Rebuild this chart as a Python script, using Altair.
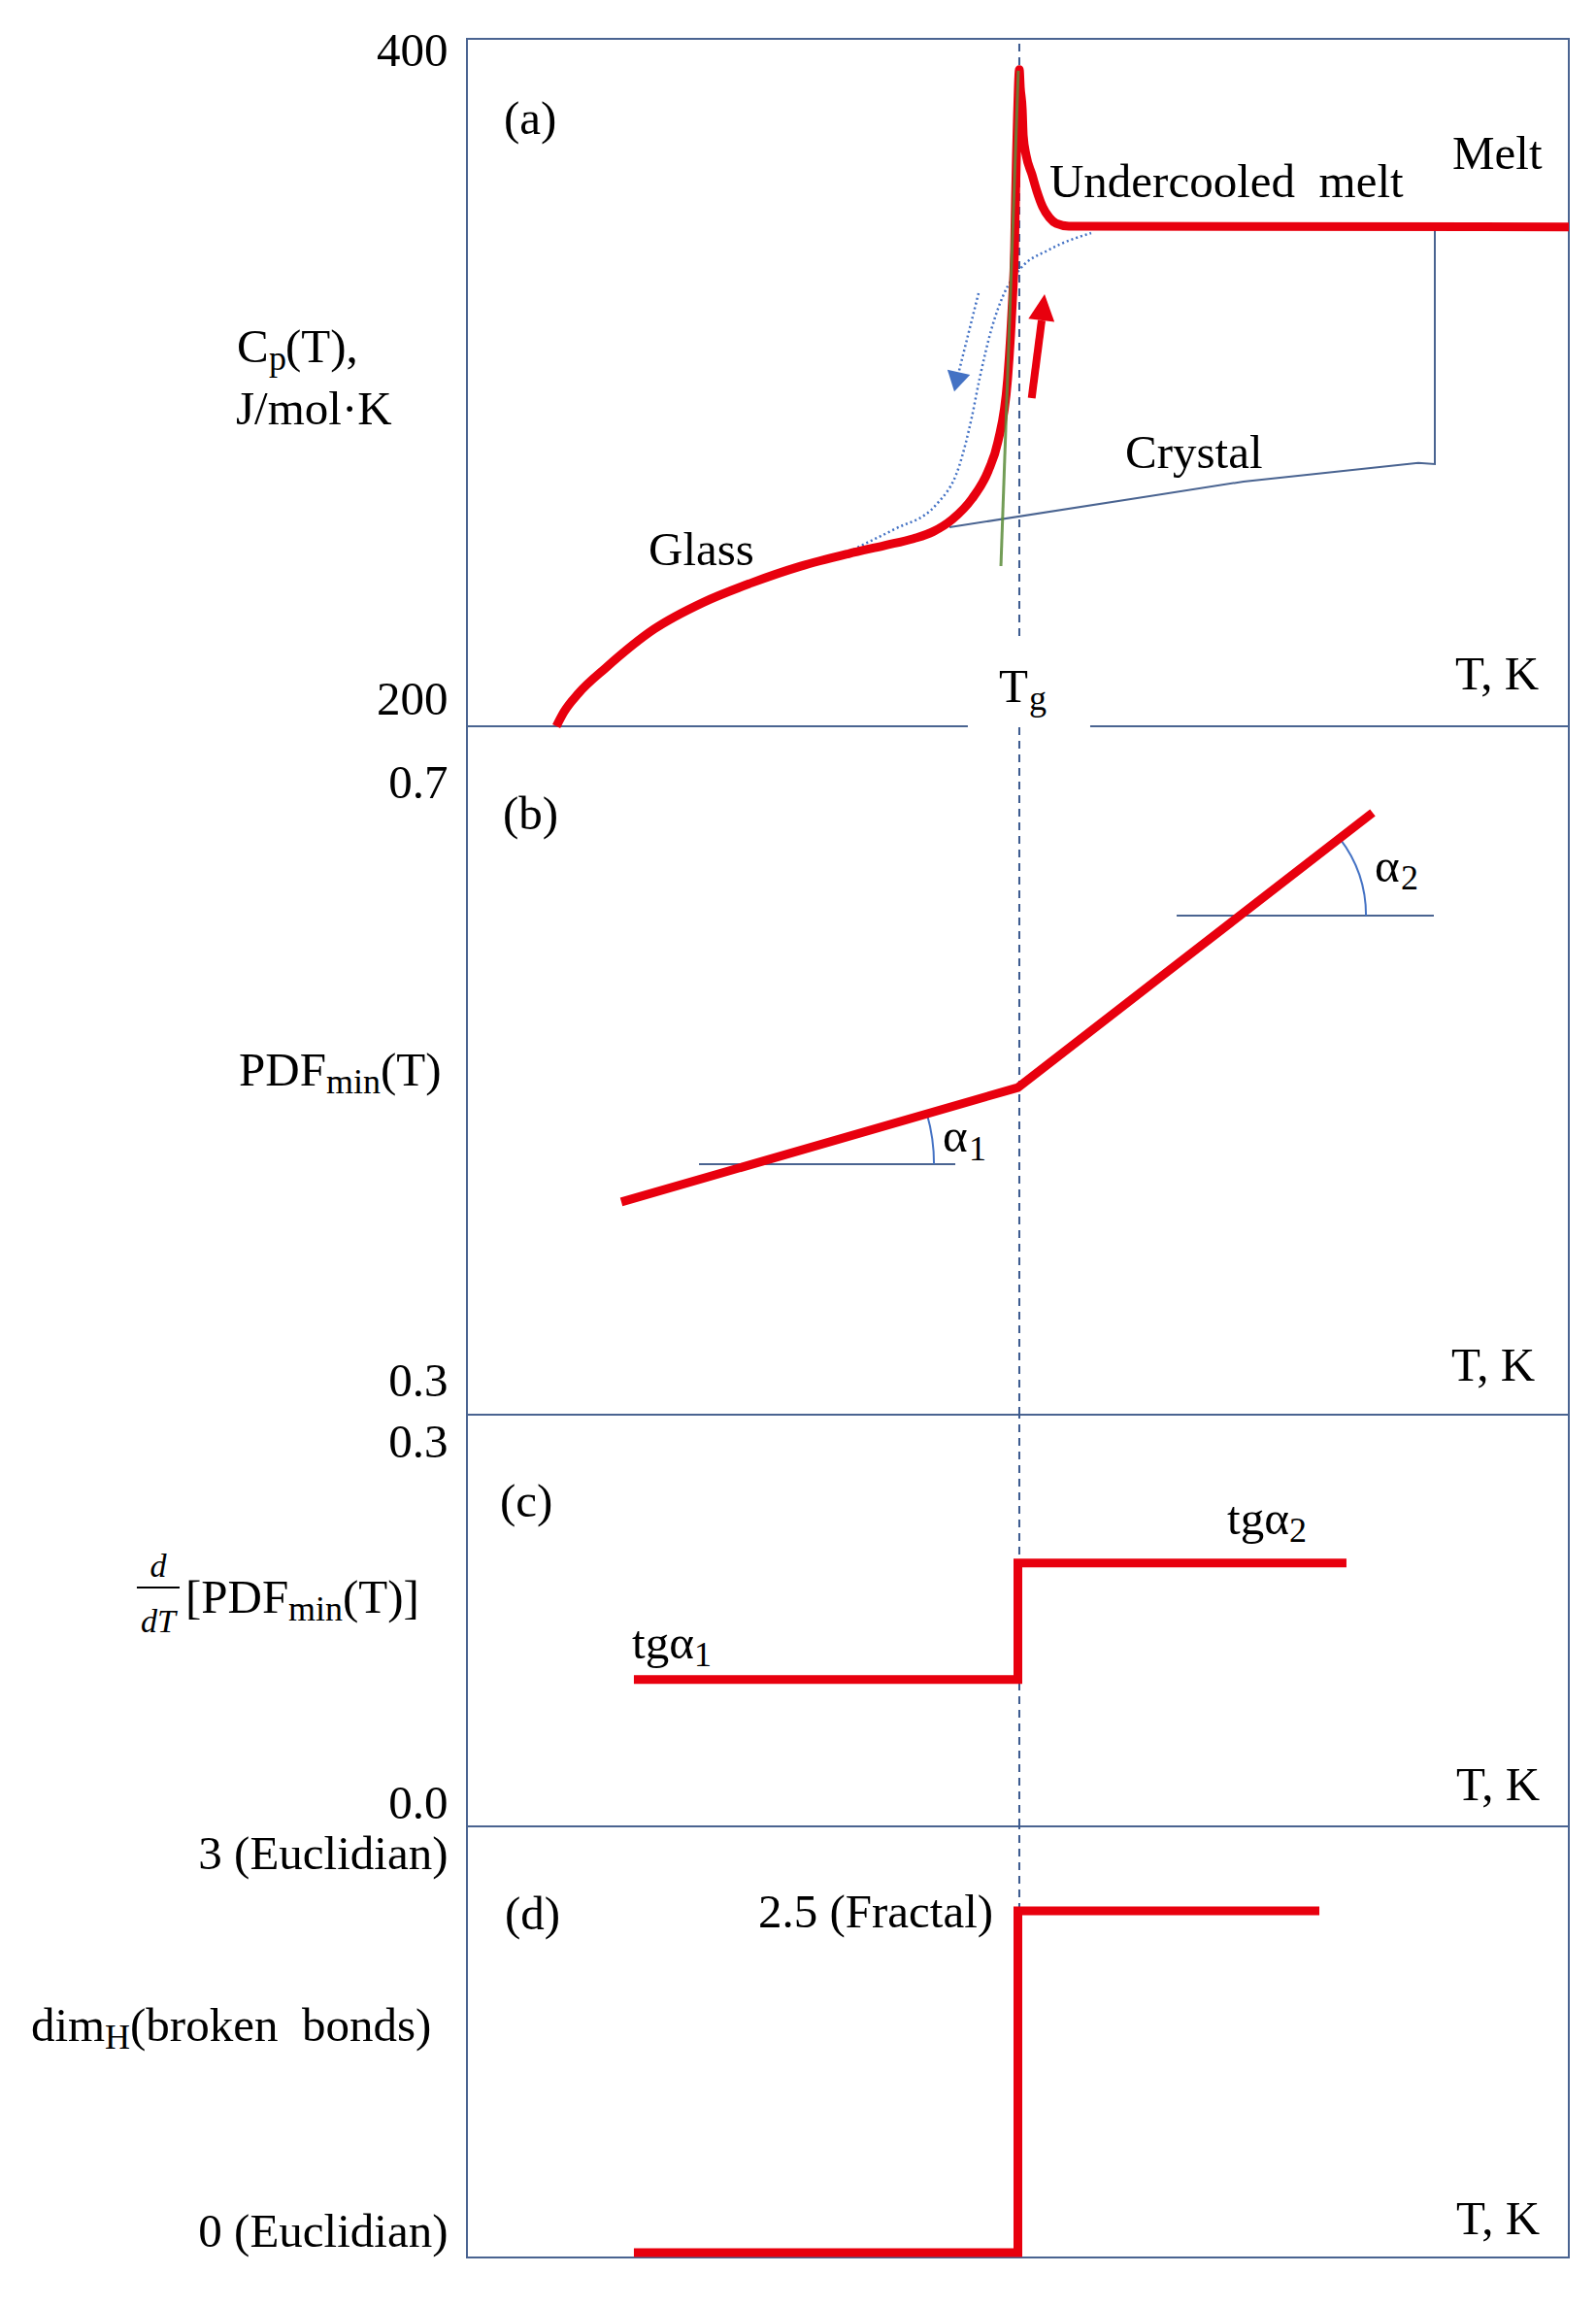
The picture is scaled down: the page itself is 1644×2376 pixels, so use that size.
import altair as alt
import pandas as pd

FONT = "Liberation Serif"
FS = 49
SUB = 36
FRAC = 34
RED = "#e8000e"
FRAME = "#4a6491"
BLUE = "#4472c4"
DASH = "#3b5a8f"
GREEN = "#5b8c3a"

PLOT_W = 1135
T_DOMAIN = [0, 100]
TG_LINE = 50.13

# ---------------- panel (a): heat capacity ----------------
A_DOMAIN = [200, 400]
A_TICKS = [200, 400]
A_OFF = [12, -28]
A_H = 708

cp_t = [8.11, 8.81, 10.13, 12.60, 17.00, 21.41, 25.81, 30.22, 34.63, 37.89,
        40.53, 42.29, 44.05, 45.81, 47.31, 48.19, 49.07, 49.34, 49.52, 49.69,
        49.78, 49.87, 49.96, 50.04, 50.13, 50.22, 50.40, 50.49, 50.75, 51.28,
        51.72, 52.25, 52.86, 53.48, 54.63, 100.0]
cp_v = [200.0, 204.2, 209.6, 217.0, 228.3, 236.0, 241.7, 246.5, 250.2, 252.6,
        254.6, 256.6, 260.2, 266.1, 274.3, 282.8, 301.1, 313.8, 324.6, 337.9,
        352.8, 366.1, 377.4, 385.9, 391.0, 385.9, 379.4, 371.8, 366.1, 360.5,
        355.7, 351.1, 348.0, 346.3, 345.5, 345.3]

cool_t = [33.48, 36.12, 38.77, 42.56, 44.67, 45.81, 46.52, 47.58, 48.72, 50.22, 52.86, 56.65]
cool_v = [248.9, 253.1, 257.3, 264.4, 275.7, 289.8, 301.1, 315.3, 325.7, 333.1, 338.7, 343.5]

crys_t = [43.79, 70.48, 86.34, 87.84, 87.84]
crys_v = [257.9, 271.2, 276.6, 276.3, 345.2]

green_t = [48.46, 50.04]
green_v = [246.6, 390.7]

blue_arrow_t = [46.43, 44.63]
blue_arrow_v = [326.0, 303.0]
blue_head = (44.43, 300.2, 193)

red_arrow_t = [51.25, 52.16]
red_arrow_v = [295.5, 318.1]
red_head = (52.28, 321.9, 7)

a_frame = dict(t1=[0, 100, 0, 0, 56.65], v1=[200, 200, 400, 200, 200],
               t2=[0, 100, 100, 45.37, 100], v2=[400, 400, 400, 200, 200])
a_dash = dict(t1=[TG_LINE], v1=[226.3], t2=[TG_LINE], v2=[400])

a_txt_t = [3.35, 16.48, 52.86, 89.43, 59.74, 48.28, 51.01, 89.69, -20.88, -17.97, -16.48, -20.97]
a_txt_v = [372.3, 246.9, 354.0, 362.1, 275.1, 207.1, 204.8, 210.7, 305.9, 303.7, 305.9, 287.9]
a_txt_s = ["(a)", "Glass", "Undercooled\u00a0\u00a0melt", "Melt", "Crystal", "T", "g", "T, K",
           "C", "p", "(T),", "J/mol\u00b7K"]
a_txt_f = [FS, FS, FS, FS, FS, FS, SUB, FS, FS, SUB, FS, FS]

# ---------------- panel (b): PDF_min ----------------
B_DOMAIN = [0.3, 0.7]
B_TICKS = [0.3, 0.7]
B_OFF = [58, -35]
B_H = 709

pdf_t = [14.01, 50.0, 82.20]
pdf_v = [0.4236, 0.4901, 0.6498]

b_horiz = dict(t1=[21.06, 64.41], v1=[0.4456, 0.590], t2=[44.32, 87.75], v2=[0.4456, 0.590])
b_arcs = [(25.91, 0.4456, 187, 1.2898, 1.5708), (70.14, 0.590, 130, 0.9118, 1.5708)]
b_frame = dict(t1=[0, 100, 0], v1=[0.3, 0.3, 0.3], t2=[0, 100, 100], v2=[0.7, 0.7, 0.3])
b_dash = dict(t1=[TG_LINE], v1=[0.3], t2=[TG_LINE], v2=[0.7])

b_txt_t = [3.26, 43.17, 45.55, 82.38, 84.76, 89.34, -20.70, -12.78, -7.84]
b_txt_v = [0.6402, 0.4529, 0.4478, 0.6097, 0.6052, 0.3197, 0.4913, 0.4867, 0.4913]
b_txt_s = ["(b)", "\u03b1", "1", "\u03b1", "2", "T, K", "PDF", "min", "(T)"]
b_txt_f = [FS, FS, SUB, FS, SUB, FS, FS, SUB, FS]

# ---------------- panel (c): derivative ----------------
C_DOMAIN = [0.0, 0.3]
C_TICKS = [0.0, 0.3]
C_OFF = [28, -24]
C_H = 424

der_t = [15.15, 50.0, 50.0, 79.82]
der_v = [0.107, 0.107, 0.192, 0.192]

c_frame = dict(t1=[0, 100, 0], v1=[0.0, 0.0, 0.0], t2=[0, 100, 100], v2=[0.3, 0.3, 0.0])
c_dash = dict(t1=[TG_LINE], v1=[0.0], t2=[TG_LINE], v2=[0.3])
c_bar = dict(t1=[-29.96], v1=[0.1741], t2=[-26.08], v2=[0.1741])

c_txt_t = [3.00, 14.98, 20.62, 68.99, 74.63, 89.78, -25.55, -16.21, -11.28]
c_txt_v = [0.2257, 0.1224, 0.1167, 0.2130, 0.2073, 0.0191, 0.1557, 0.1500, 0.1557]
c_txt_s = ["(c)", "tg\u03b1", "1", "tg\u03b1", "2", "T, K", "[PDF", "min", "(T)]"]
c_txt_f = [FS, FS, SUB, FS, SUB, FS, FS, SUB, FS]

c_frac_t = [-28.02, -28.02]
c_frac_v = [0.1818, 0.1415]
c_frac_s = ["d", "dT"]

# ---------------- panel (d): Hausdorff dimension ----------------
D_DOMAIN = [-0.0355, 3.118]
D_TICKS = [0, 3]
D_TICK_LABELS = ["0 (Euclidian)", "3 (Euclidian)"]
D_OFF = [12, -22]
D_H = 444

dim_t = [15.15, 50.0, 50.0, 77.36]
dim_v = [0.0, 0.0, 2.5, 2.5]

d_frame = dict(t1=[0, 100, 0], v1=[-0.0355, -0.0355, -0.0355], t2=[0, 100, 100], v2=[3.118, 3.118, -0.0355])
d_dash = dict(t1=[TG_LINE], v1=[2.5], t2=[TG_LINE], v2=[3.118])

d_txt_t = [3.44, 26.43, 89.78, -39.56, -32.86, -30.57]
d_txt_v = [2.365, 2.379, 0.135, 1.548, 1.491, 1.548]
d_txt_s = ["(d)", "2.5 (Fractal)", "T, K", "dim", "H", "(broken\u00a0\u00a0bonds)"]
d_txt_f = [FS, FS, FS, FS, SUB, FS]


# ---------------- helpers ----------------
def X():
    return alt.X("t:Q", scale=alt.Scale(domain=T_DOMAIN, nice=False, zero=False), axis=None)


def make_y(domain, ticks, offs, fmt=None, expr=None):
    mid = (ticks[0] + ticks[1]) / 2
    ax = dict(values=ticks, title=None, labelLimit=0,
              labelOffset={"condition": {"test": f"datum.value > {mid}", "value": offs[0]},
                           "value": offs[1]})
    if fmt:
        ax["format"] = fmt
    if expr:
        ax["labelExpr"] = expr
    return alt.Y("v:Q", scale=alt.Scale(domain=domain, nice=False, zero=False), axis=alt.Axis(**ax))


def line_layer(ts, vs, Y, **mark):
    df = pd.DataFrame({"t": ts, "v": vs, "i": list(range(len(ts)))})
    return alt.Chart(df).mark_line(**mark).encode(x=X(), y=Y, order="i:Q")


def rule_layer(spec, Y, **mark):
    df = pd.DataFrame(spec)
    df = df.rename(columns={"t1": "t", "v1": "v"})
    return alt.Chart(df).mark_rule(**mark).encode(x=X(), y=Y, x2="t2:Q", y2="v2:Q")


def text_layer(ts, vs, ss, fs, Y, **mark):
    df = pd.DataFrame({"t": ts, "v": vs, "s": ss, "fs": fs})
    base = dict(font=FONT, align="left", baseline="alphabetic", color="black")
    base.update(mark)
    return alt.Chart(df).mark_text(**base).encode(
        x=X(), y=Y, text="s:N", size=alt.Size("fs:Q", scale=None, legend=None))


def head_layer(head, Y, color, shape, size):
    df = pd.DataFrame({"t": [head[0]], "v": [head[1]]})
    return alt.Chart(df).mark_point(shape=shape, filled=True, opacity=1, size=size,
                                    angle=head[2], color=color, strokeWidth=0).encode(x=X(), y=Y)


def arc_layer(arc, Y):
    df = pd.DataFrame({"t": [arc[0]], "v": [arc[1]]})
    return alt.Chart(df).mark_arc(radius=arc[2] + 1, radius2=arc[2] - 1, theta=arc[3],
                                  theta2=arc[4], color=BLUE).encode(x=X(), y=Y)


# ---------------- panel (a) ----------------
YA = make_y(A_DOMAIN, A_TICKS, A_OFF, fmt="d")
pa = alt.layer(
    rule_layer(a_frame, YA, color=FRAME, strokeWidth=2, strokeCap="square"),
    rule_layer(a_dash, YA, color=DASH, strokeWidth=2, strokeDash=[8, 6]),
    line_layer(crys_t, crys_v, YA, color=FRAME, strokeWidth=2),
    line_layer(cool_t, cool_v, YA, color=BLUE, strokeWidth=2.5, strokeDash=[2, 3], interpolate="monotone"),
    line_layer(blue_arrow_t, blue_arrow_v, YA, color=BLUE, strokeWidth=2.5, strokeDash=[2, 3]),
    head_layer(blue_head, YA, BLUE, "M0,-0.85L1,0.85L-1,0.85Z", 576),
    line_layer(cp_t, cp_v, YA, color=RED, strokeWidth=9, interpolate="monotone",
               strokeCap="butt", strokeJoin="round"),
    line_layer(green_t, green_v, YA, color=GREEN, strokeWidth=3, opacity=0.85),
    line_layer(red_arrow_t, red_arrow_v, YA, color=RED, strokeWidth=8, strokeCap="butt"),
    head_layer(red_head, YA, RED, "M0,-1L1,1L-1,1Z", 729),
    text_layer(a_txt_t, a_txt_v, a_txt_s, a_txt_f, YA),
).properties(width=PLOT_W, height=A_H)

# ---------------- panel (b) ----------------
YB = make_y(B_DOMAIN, B_TICKS, B_OFF, fmt=".1f")
pb = alt.layer(
    rule_layer(b_frame, YB, color=FRAME, strokeWidth=2, strokeCap="square"),
    rule_layer(b_dash, YB, color=DASH, strokeWidth=2, strokeDash=[8, 6]),
    rule_layer(b_horiz, YB, color=FRAME, strokeWidth=2),
    arc_layer(b_arcs[0], YB),
    arc_layer(b_arcs[1], YB),
    line_layer(pdf_t, pdf_v, YB, color=RED, strokeWidth=9, strokeCap="butt", strokeJoin="miter"),
    text_layer(b_txt_t, b_txt_v, b_txt_s, b_txt_f, YB),
).properties(width=PLOT_W, height=B_H)

# ---------------- panel (c) ----------------
YC = make_y(C_DOMAIN, C_TICKS, C_OFF, fmt=".1f")
pc = alt.layer(
    rule_layer(c_frame, YC, color=FRAME, strokeWidth=2, strokeCap="square"),
    rule_layer(c_dash, YC, color=DASH, strokeWidth=2, strokeDash=[8, 6]),
    line_layer(der_t, der_v, YC, color=RED, strokeWidth=9, strokeCap="butt", strokeJoin="miter"),
    rule_layer(c_bar, YC, color="black", strokeWidth=2),
    text_layer(c_txt_t, c_txt_v, c_txt_s, c_txt_f, YC),
    text_layer(c_frac_t, c_frac_v, c_frac_s, [FRAC, FRAC], YC, align="center", fontStyle="italic"),
).properties(width=PLOT_W, height=C_H)

# ---------------- panel (d) ----------------
d_expr = f"datum.value > 1.5 ? '{D_TICK_LABELS[1]}' : '{D_TICK_LABELS[0]}'"
YD = make_y(D_DOMAIN, D_TICKS, D_OFF, expr=d_expr)
pd_ = alt.layer(
    rule_layer(d_frame, YD, color=FRAME, strokeWidth=2, strokeCap="square"),
    rule_layer(d_dash, YD, color=DASH, strokeWidth=2, strokeDash=[8, 6]),
    line_layer(dim_t, dim_v, YD, color=RED, strokeWidth=9, strokeCap="butt", strokeJoin="miter"),
    text_layer(d_txt_t, d_txt_v, d_txt_s, d_txt_f, YD),
).properties(width=PLOT_W, height=D_H)

chart = alt.vconcat(pa, pb, pc, pd_, spacing=0, bounds="flush").properties(
    padding={"left": 23, "top": 20, "right": 5, "bottom": 5},
    background="white",
).configure_view(stroke=None).configure_axis(
    labelFont=FONT, labelFontSize=FS, labelColor="black", domain=False, ticks=False,
    tickSize=0, grid=False, labelPadding=20, labelLimit=0,
)

chart.save("out.html", embed_options={"renderer": "svg", "actions": False})
